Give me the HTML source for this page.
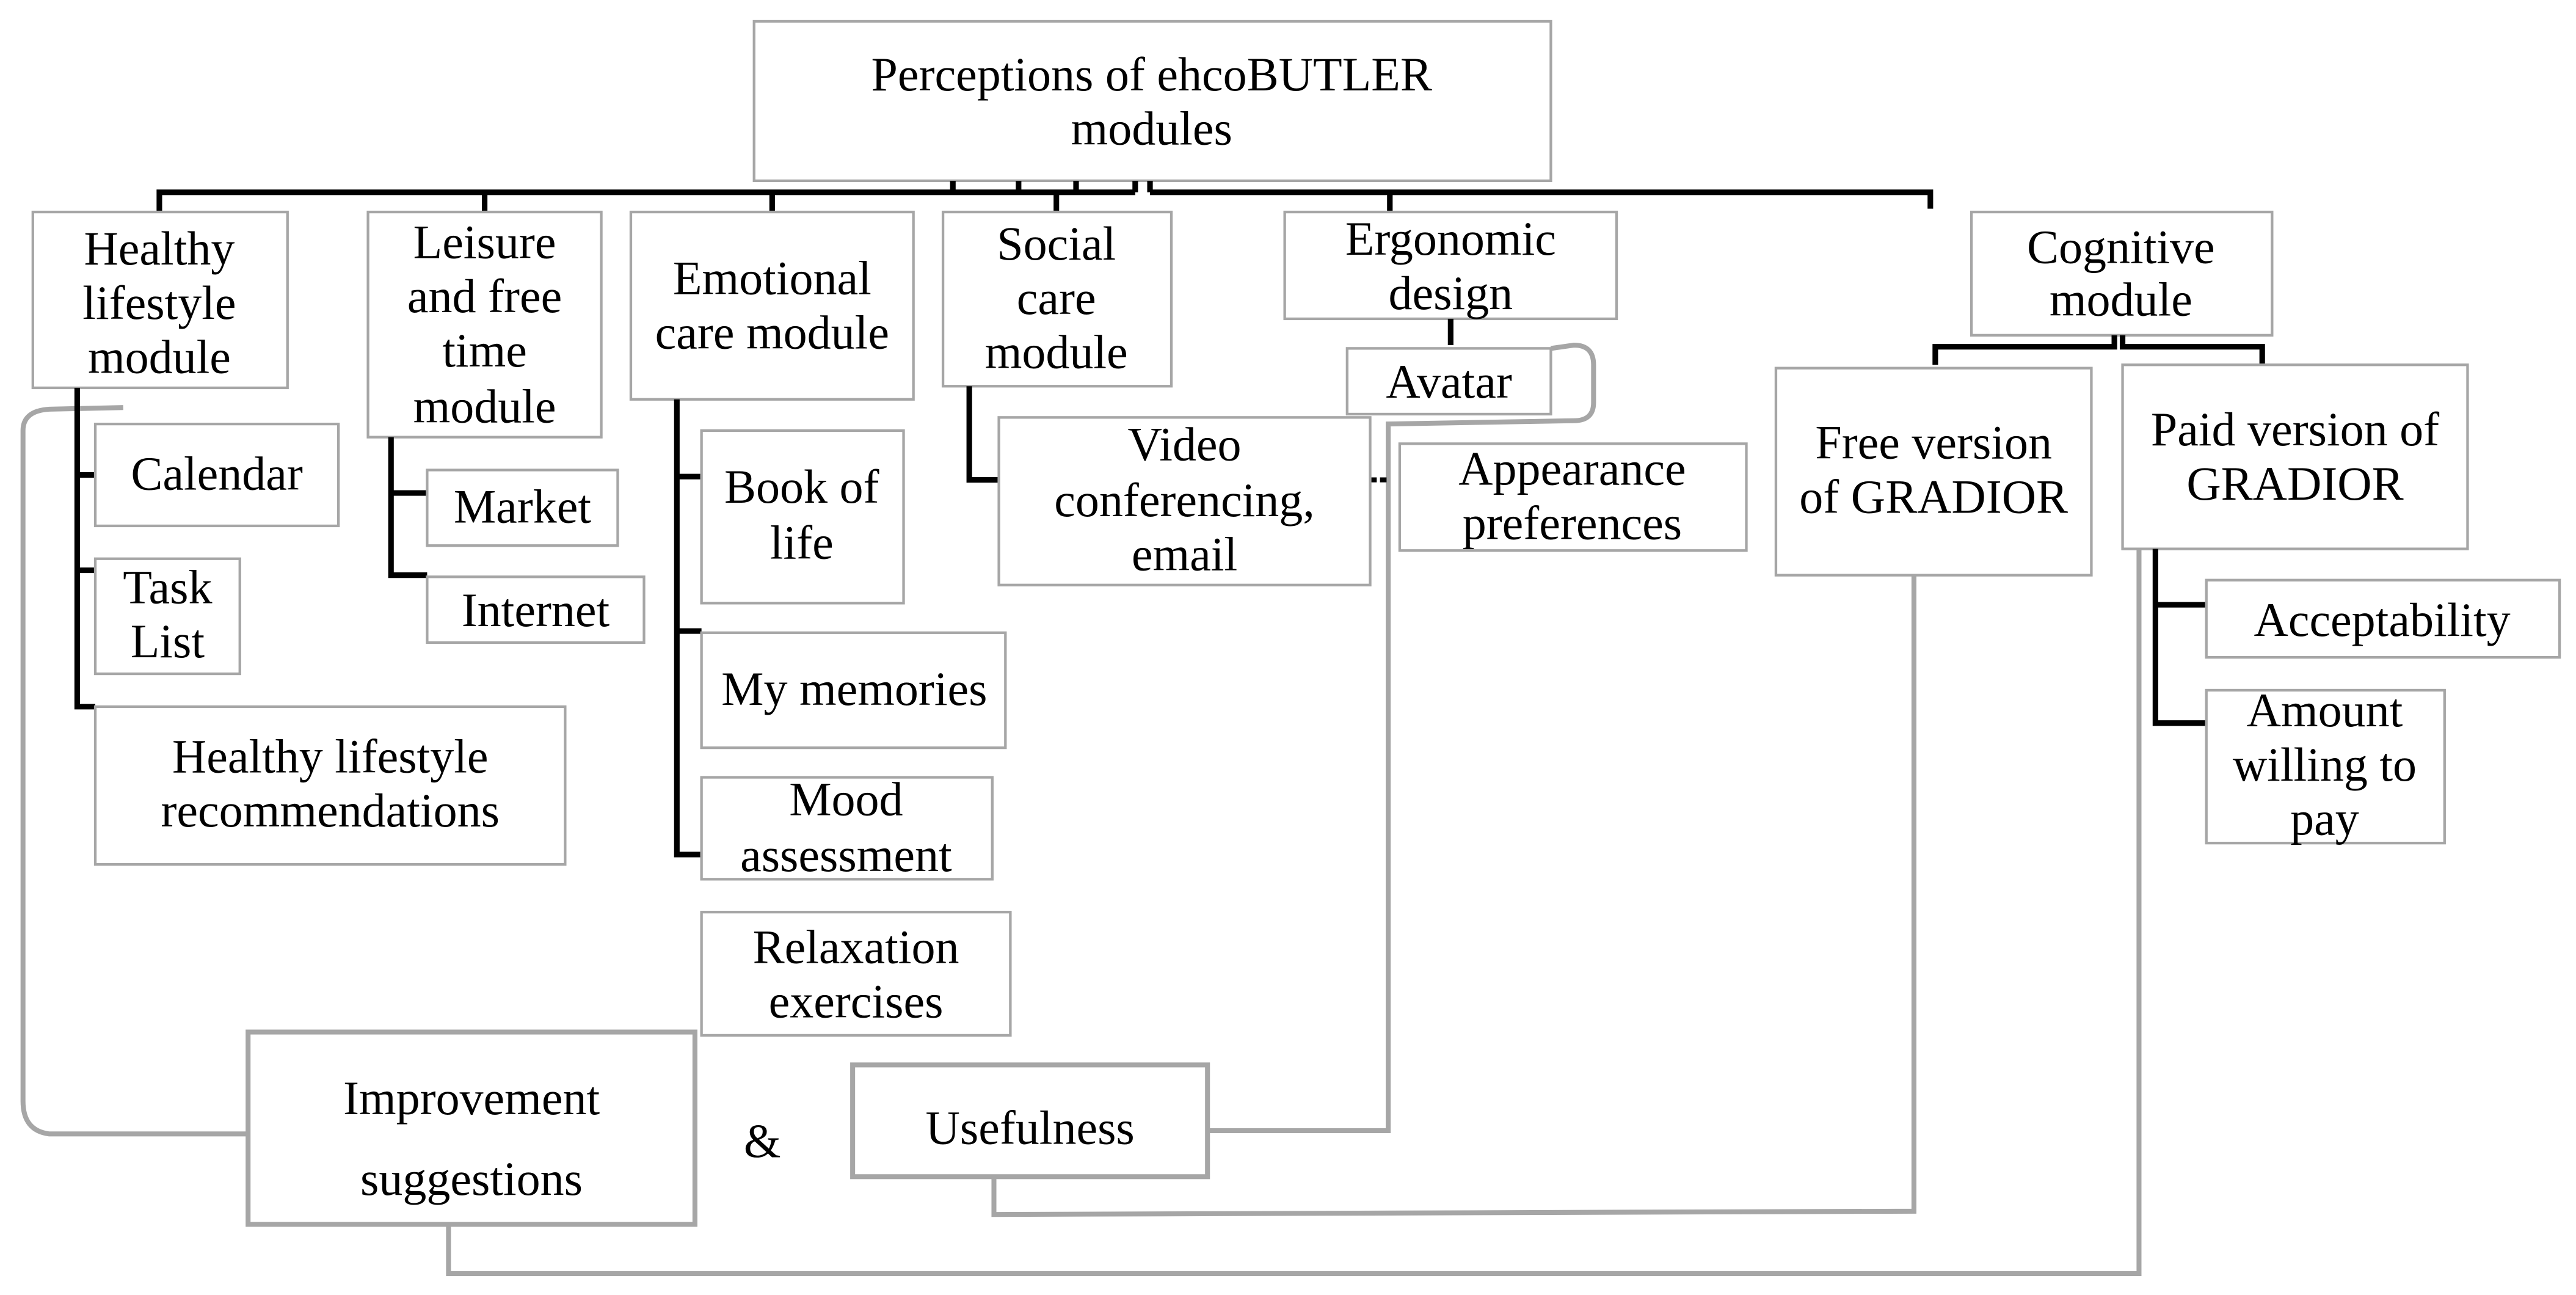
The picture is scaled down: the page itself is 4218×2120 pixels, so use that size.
<!DOCTYPE html>
<html><head><meta charset="utf-8"><style>
html,body{margin:0;padding:0;background:#fff;}
svg{display:block;}
text{font-family:"Liberation Serif",serif;font-size:29px;fill:#000;text-anchor:middle;}
.b{fill:#fff;stroke:#a6a6a6;stroke-width:1.6;}
.k{stroke:#000;stroke-width:3.4;fill:none;}
.g{stroke:#a6a6a6;stroke-width:3;fill:none;}
</style></head><body>
<svg width="4218" height="2120" viewBox="0 0 1568 788" preserveAspectRatio="none" xmlns="http://www.w3.org/2000/svg">
<path class="g" d="M151,690 L30,690 Q14,688 14,670 L14,262 Q14,250 30,249 L75,248"/>
<path class="g" d="M944,212 L958,210 Q970,210 970,222 L970,245 Q970,256 958,256 L845,258 L845,688 L735,688"/>
<path class="g" d="M1165,350 L1165,737 L605,739 L605,716"/>
<path class="g" d="M1302,334 L1302,775 L273,775 L273,745"/>
<rect class="b" x="459" y="13" width="485" height="97"/>
<text x="701" y="55">Perceptions of ehcoBUTLER</text>
<text x="701" y="88">modules</text>
<path class="k" d="M97,129 L97,117 L691,117 M700,117 L1175,117 L1175,127"/>
<path class="k" d="M620,110 V117 M655,110 V117 M691,110 V117 M700,110 V117 M580,110 V117"/>
<path class="k" d="M295,117 V129 M470,117 V129 M643,117 V129 M846,117 V129"/>
<rect class="b" x="20" y="129" width="155" height="107"/>
<text x="97" y="161">Healthy</text><text x="97" y="194">lifestyle</text><text x="97" y="227">module</text>
<rect class="b" x="224" y="129" width="142" height="137"/>
<text x="295" y="157">Leisure</text><text x="295" y="190">and free</text><text x="295" y="223">time</text><text x="295" y="257">module</text>
<rect class="b" x="384" y="129" width="172" height="114"/>
<text x="470" y="179">Emotional</text><text x="470" y="212">care module</text>
<rect class="b" x="574" y="129" width="139" height="106"/>
<text x="643" y="158">Social</text><text x="643" y="191">care</text><text x="643" y="224">module</text>
<rect class="b" x="782" y="129" width="202" height="65"/>
<text x="883" y="155">Ergonomic</text><text x="883" y="188">design</text>
<rect class="b" x="1200" y="129" width="183" height="75"/>
<text x="1291" y="160">Cognitive</text><text x="1291" y="192">module</text>
<path class="k" d="M47,236 V430 H58 M47,289 H58 M47,347 H58"/>
<rect class="b" x="58" y="258" width="148" height="62"/><text x="132" y="298">Calendar</text>
<rect class="b" x="58" y="340" width="88" height="70"/><text x="102" y="367">Task</text><text x="102" y="400">List</text>
<rect class="b" x="58" y="430" width="286" height="96"/><text x="201" y="470">Healthy lifestyle</text><text x="201" y="503">recommendations</text>
<path class="k" d="M238,266 V350 H260 M238,300 H260"/>
<rect class="b" x="260" y="286" width="116" height="46"/><text x="318" y="318">Market</text>
<rect class="b" x="260" y="351" width="132" height="40"/><text x="326" y="381">Internet</text>
<path class="k" d="M412,243 V520 H427 M412,290 H427 M412,384 H427"/>
<rect class="b" x="427" y="262" width="123" height="105"/><text x="488" y="306">Book of</text><text x="488" y="340">life</text>
<rect class="b" x="427" y="385" width="185" height="70"/><text x="520" y="429">My memories</text>
<rect class="b" x="427" y="473" width="177" height="62"/><text x="515" y="496">Mood</text><text x="515" y="530">assessment</text>
<rect class="b" x="427" y="555" width="188" height="75"/><text x="521" y="586">Relaxation</text><text x="521" y="619">exercises</text>
<path class="k" d="M590,235 V292 H608"/>
<path d="M834,292 H846" stroke="#000" stroke-width="3" stroke-dasharray="4,2"/>
<rect class="b" x="608" y="254" width="226" height="102"/>
<text x="721" y="280">Video</text><text x="721" y="314">conferencing,</text><text x="721" y="347">email</text>
<path class="k" d="M883,194 V210"/>
<rect class="b" x="820" y="212" width="124" height="40"/><text x="882" y="242">Avatar</text>
<rect class="b" x="852" y="270" width="211" height="65"/><text x="957" y="295">Appearance</text><text x="957" y="328">preferences</text>
<path class="k" d="M1287,204 V211 H1178 V222 M1292,204 V211 H1377 V222"/>
<rect class="b" x="1081" y="224" width="192" height="126"/><text x="1177" y="279">Free version</text><text x="1177" y="312">of GRADIOR</text>
<rect class="b" x="1292" y="222" width="210" height="112"/><text x="1397" y="271">Paid version of</text><text x="1397" y="304">GRADIOR</text>
<path class="k" d="M1312,334 V440 H1343 M1312,368 H1343"/>
<rect class="b" x="1343" y="353" width="215" height="47"/><text x="1450" y="387">Acceptability</text>
<rect class="b" x="1343" y="420" width="145" height="93"/><text x="1415" y="442">Amount</text><text x="1415" y="475">willing to</text><text x="1415" y="508">pay</text>
<rect x="151" y="628" width="272" height="117" fill="#fff" stroke="#a6a6a6" stroke-width="3"/>
<text x="287" y="678">Improvement</text><text x="287" y="727">suggestions</text>
<text x="464" y="704">&amp;</text>
<rect x="519" y="648" width="216" height="68" fill="#fff" stroke="#a6a6a6" stroke-width="3"/>
<text x="627" y="696">Usefulness</text>
</svg>
</body></html>
